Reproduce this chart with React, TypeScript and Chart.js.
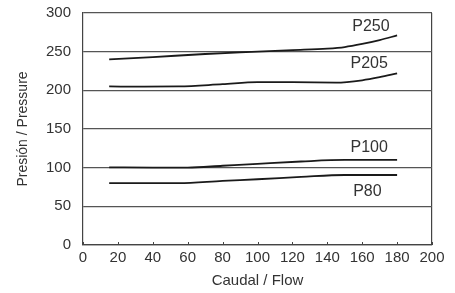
import React, { useEffect, useRef } from "react";
import { Chart, registerables } from "chart.js";

Chart.register(...registerables);

const flowP250 = [15, 40, 70, 100, 120, 140, 150, 160, 170, 180];
const valP250 = [240, 243, 247, 250, 252, 254, 256, 260, 265, 271];
const flowP205 = [15, 35, 55, 80, 100, 120, 145, 160, 170, 180];
const valP205 = [205, 204.8, 205, 208, 210.5, 210.5, 210, 213, 217, 222];
const flowP100 = [15, 40, 60, 80, 100, 125, 150, 180];
const valP100 = [100.5, 100, 100, 102.5, 105, 108, 110, 110];
const flowP80 = [15, 35, 55, 80, 100, 125, 150, 180];
const valP80 = [80, 80, 80, 83, 85, 88, 90.5, 90.5];

const seriesLabels = ["P250", "P205", "P100", "P80"];
const labelX = [165, 164, 164, 163];
const labelY = [283, 235, 126, 69];

const xTicks = [0, 20, 40, 60, 80, 100, 120, 140, 160, 180, 200];
const yTicks = [0, 50, 100, 150, 200, 250, 300];

const FONT = "'Liberation Sans', Arial, sans-serif";
const toPts = (xs: number[], ys: number[]) => xs.map((x, i) => ({ x, y: ys[i] }));

export default function App() {
  const ref = useRef<HTMLCanvasElement>(null);
  useEffect(() => {
    document.body.style.margin = "0";
    const labelPlugin = {
      id: "labels",
      afterDatasetsDraw(chart: any) {
        const { ctx, scales, chartArea } = chart;
        ctx.save();
        ctx.strokeStyle = "#444";
        ctx.lineWidth = 1;
        xTicks.forEach((v) => {
          const px = Math.round(scales.x.getPixelForValue(v)) + 0.5;
          ctx.beginPath();
          ctx.moveTo(px, chartArea.bottom);
          ctx.lineTo(px, chartArea.bottom - 3);
          ctx.stroke();
        });
        ctx.fillStyle = "#333";
        ctx.font = "16px " + FONT;
        ctx.textAlign = "center";
        ctx.textBaseline = "middle";
        seriesLabels.forEach((l, i) => {
          ctx.fillText(l, scales.x.getPixelForValue(labelX[i]), scales.y.getPixelForValue(labelY[i]));
        });
        ctx.restore();
      },
    };
    const mk = (xs: number[], ys: number[]) => ({
      data: toPts(xs, ys),
      borderColor: "#1a1a1a",
      borderWidth: 1.8,
      pointRadius: 0,
      cubicInterpolationMode: "monotone" as const,
      fill: false,
    });
    const chart = new Chart(ref.current!, {
      type: "line",
      data: {
        datasets: [mk(flowP250, valP250), mk(flowP205, valP205), mk(flowP100, valP100), mk(flowP80, valP80)],
      },
      options: {
        animation: false,
        responsive: false,
        layout: { padding: { top: 13, right: 23, left: 0, bottom: 0 } },
        plugins: { legend: { display: false }, tooltip: { enabled: false } },
        scales: {
          x: {
            type: "linear",
            min: 0,
            max: 200,
            afterBuildTicks: (s: any) => { s.ticks = xTicks.map((v) => ({ value: v })); },
            afterFit: (s: any) => { s.height = 48; s.paddingLeft = 0; s.paddingRight = 0; },
            grid: {
              color: (c: any) => (c.tick && c.tick.value === 200 ? "#444" : "rgba(0,0,0,0)"),
              lineWidth: 1.2,
              tickLength: 0,
              drawTicks: false,
            },
            border: { display: true, color: "#444", width: 1.2 },
            ticks: { color: "#333", font: { size: 15, family: FONT }, padding: 4, maxRotation: 0 },
            title: { display: true, text: "Caudal / Flow", color: "#333", font: { size: 15, family: FONT }, padding: { top: 0, bottom: 3 } },
          },
          y: {
            min: 0,
            max: 300,
            afterBuildTicks: (s: any) => { s.ticks = yTicks.map((v) => ({ value: v })); },
            afterFit: (s: any) => { s.width = 83; s.paddingTop = 0; s.paddingBottom = 0; },
            grid: { color: "#555", lineWidth: 1.2, drawTicks: false, tickLength: 0 },
            border: { display: true, color: "#444", width: 1.2 },
            ticks: { color: "#333", font: { size: 15, family: FONT }, padding: 12 },
            title: { display: true, text: "Presión / Pressure", color: "#333", font: { size: 14, family: FONT }, padding: { top: 15, bottom: 0 } },
          },
        },
      },
      plugins: [labelPlugin],
    });
    return () => chart.destroy();
  }, []);
  return (
    <div style={{ width: 455, height: 293, background: "#fff" }}>
      <canvas ref={ref} width={455} height={293} />
    </div>
  );
}
